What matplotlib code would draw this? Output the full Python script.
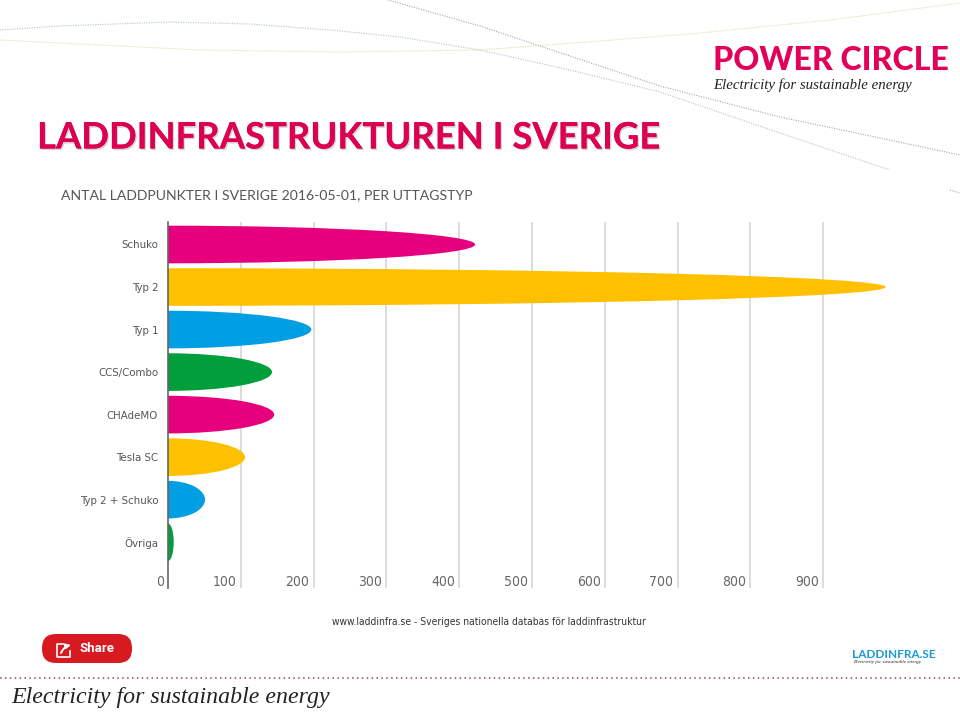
import matplotlib
matplotlib.use("Agg")
import matplotlib.pyplot as plt
import matplotlib.patheffects as pe
from matplotlib.patches import Ellipse, FancyBboxPatch, FancyArrowPatch

categories = ['Schuko', 'Typ 2', 'Typ 1', 'CCS/Combo', 'CHAdeMO', 'Tesla SC', 'Typ 2 + Schuko', 'Övriga']
values = [422, 986, 197, 143, 146, 106, 51, 8]
colors = ['#e6007e', '#ffc000', '#009fe3', '#009f3c', '#e6007e', '#ffc000', '#009fe3', '#009f3c']
x_ticks = [100, 200, 300, 400, 500, 600, 700, 800, 900]

# background dotted lines, pixel positions
line_teal = [(0, 30), (60, 26), (170, 22), (250, 24), (330, 30), (400, 37), (480, 50), (570, 70), (660, 92), (780, 133), (890, 170)]
line_yellow = [(0, 40), (80, 44), (200, 50), (340, 52), (480, 50), (600, 41), (700, 33), (830, 20), (960, 3)]
line_grey = [(388, 0), (480, 26), (570, 56), (660, 86), (780, 117), (880, 138), (960, 155)]
line_stub = [(950, 190), (960, 193)]

fig = plt.figure(figsize=(9.6, 7.17), dpi=100)
W, H = 960, 717

# slide layer in pixel coordinates
bg = fig.add_axes([0, 0, 1, 1])
bg.set_xlim(0, W)
bg.set_ylim(H, 0)
bg.axis('off')

for pts, col in [(line_teal, '#b0c6ca'), (line_yellow, '#dedbb0'), (line_grey, '#a8a8a8'), (line_stub, '#a8a8a8')]:
    bg.plot([p[0] for p in pts], [p[1] for p in pts], color=col, lw=0.8, ls=(0, (1, 1.2)))
bg.plot([0, W], [678, 678], color='#9a3f6e', lw=1.1, ls=(0, (1, 2.2)))

bg.text(37, 138, 'LADDINFRASTRUKTUREN I SVERIGE', color='#dc0050', fontsize=26.25, fontweight='bold',
        family='Lato', va='center', ha='left',
        path_effects=[pe.withSimplePatchShadow(offset=(1, -1.2), shadow_rgbFace='#999999', alpha=0.4), pe.Normal()])
bg.text(713, 60, 'POWER CIRCLE', color='#e2005a', fontsize=23.1, fontweight='black', family='Lato', va='center')
bg.text(713, 85, 'Electricity for sustainable energy', color='#222222', fontsize=10.7, style='italic',
        family='Liberation Serif', va='center')
bg.text(61, 195.5, 'ANTAL LADDPUNKTER I SVERIGE 2016-05-01, PER UTTAGSTYP', color='#555555', fontsize=10.05,
        family='Lato', va='center')
bg.text(332, 622, 'www.laddinfra.se - Sveriges nationella databas för laddinfrastruktur', color='#333333',
        fontsize=7.4, family='DejaVu Sans', stretch='condensed', va='center')
bg.text(852, 654, 'LADDINFRA.SE', color='#1a9ad6', fontsize=8.5, fontweight='bold', family='Lato', va='center')
bg.text(853, 662, 'Electricity for sustainable energy', color='#222222', fontsize=3.7, style='italic',
        family='Liberation Serif', va='center')
bg.text(11, 698, 'Electricity for sustainable energy', color='#222222', fontsize=17.2, style='italic',
        family='Liberation Serif', va='center')

# share button
bg.add_patch(FancyBboxPatch((42, 634), 90, 29, boxstyle='round,pad=0,rounding_size=14', fc='#d71920', ec='none'))
bg.plot([63, 57, 57, 70, 70], [644, 644, 657, 657, 651], color='white', lw=1.2)
bg.add_patch(FancyArrowPatch((61, 653), (71, 645), connectionstyle='arc3,rad=-0.25', arrowstyle='-|>',
                             mutation_scale=7, color='white', lw=1.4, shrinkA=0, shrinkB=0))
bg.text(80, 648.5, 'Share', color='white', fontsize=9.5, fontweight='bold', family='Roboto', va='center')

# chart
x0, x1 = 167.9, 895.9
top, bottom = 222, 587.7
ax = fig.add_axes([x0 / W, 1 - bottom / H, (x1 - x0) / W, (bottom - top) / H])
ax.patch.set_alpha(0)
ax.set_xlim(0, 1000)
ax.set_ylim(8.07, -0.529)
for s in ['top', 'right', 'bottom']:
    ax.spines[s].set_visible(False)
ax.spines['left'].set_color('#666666')
ax.spines['left'].set_linewidth(1.2)
ax.spines['left'].set_zorder(5)
ax.set_axisbelow(True)
ax.set_xticks(x_ticks)
ax.set_xticklabels([])
ax.grid(axis='x', color='#d2d2d2', lw=1.1)
ax.tick_params(length=0)
ax.set_yticks(range(len(categories)))
ax.set_yticklabels(categories, family='DejaVu Sans', stretch='condensed', fontsize=8.2, color='#555555')
ax.tick_params(axis='y', pad=7)

for i, (v, c) in enumerate(zip(values, colors)):
    ax.add_patch(Ellipse((0, i), 2 * v, 0.885, fc=c, ec='none', zorder=3))

for t in [0] + x_ticks:
    ax.annotate(str(t), (t, 7.93), xytext=(-4, 0), textcoords='offset pixels', ha='right', va='center',
                family='DejaVu Sans', stretch='condensed', fontsize=10, color='#666666')

fig.savefig('out.png', dpi=100)
